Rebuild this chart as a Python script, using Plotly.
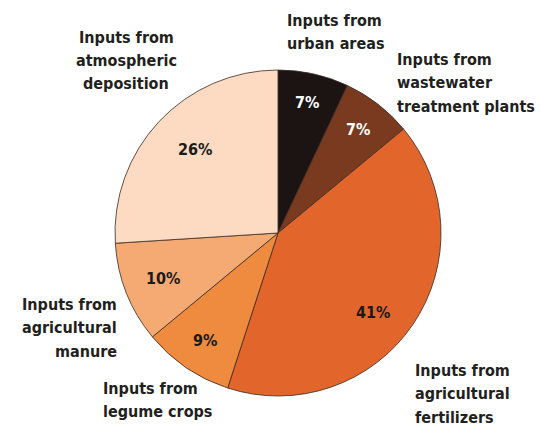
import math
import plotly.graph_objects as go

W, H = 541, 426

sources = ["Inputs from<br>urban areas",
           "Inputs from<br>wastewater<br>treatment plants",
           "Inputs from<br>agricultural<br>fertilizers",
           "Inputs from<br>legume crops",
           "Inputs from<br>agricultural<br>manure",
           "Inputs from<br>atmospheric<br>deposition"]
shares = [7, 7, 41, 9, 10, 26]
colors = ["#1b1412", "#7a3a1f", "#e2662b", "#ee8b3f", "#f5aa73", "#fcdbc2"]
text_colors = ["white", "white", "#1a1a1a", "#1a1a1a", "#1a1a1a", "#1a1a1a"]

FONT = "DejaVu Sans Condensed"

# pie geometry in pixels
CX, CY, R = 278, 233, 163

fig = go.Figure(go.Pie(
    labels=sources,
    values=shares,
    sort=False,
    direction="clockwise",
    rotation=0,
    marker=dict(colors=colors, line=dict(color="#3b2a22", width=0.8)),
    textinfo="none",
    showlegend=False,
    hoverinfo="label+percent",
    domain=dict(x=[(CX - R) / W, (CX + R) / W], y=[(H - CY - R) / H, (H - CY + R) / H]),
))

annotations = []

# percent labels placed near each slice's mid-angle (radius fraction, angle nudge in degrees)
label_radius = [0.82, 0.80, 0.76, 0.80, 0.76, 0.72]
label_nudge = [0, 0, 6, 0, 0, 2]
total = sum(shares)
cum = 0
for v, rf, nd, tc in zip(shares, label_radius, label_nudge, text_colors):
    mid = (cum + v / 2) / total * 2 * math.pi + math.radians(nd)
    cum += v
    px = CX + rf * R * math.sin(mid)
    py = CY - rf * R * math.cos(mid)
    annotations.append(dict(
        text="<b>%d%%</b>" % v, x=px / W, y=1 - py / H,
        xref="paper", yref="paper", xanchor="center", yanchor="middle",
        showarrow=False, font=dict(family=FONT, size=16, color=tc),
    ))

# outside labels: (pixel x, pixel y of first line centre, xanchor)
label_pos = [
    (285, 20, "left"),
    (395, 59, "left"),
    (413, 370, "left"),
    (101, 388, "left"),
    (119, 304, "right"),
    (126, 37, "center"),
]
LINE = 23.5
for txt, (px, py, xa) in zip(sources, label_pos):
    for i, line in enumerate(txt.split("<br>")):
        annotations.append(dict(
            text="<b>" + line + "</b>", x=px / W, y=1 - (py + i * LINE) / H,
            xref="paper", yref="paper", xanchor=xa, yanchor="middle",
            showarrow=False, font=dict(family=FONT, size=16, color="#231f20"),
        ))

fig.update_layout(
    width=W, height=H,
    margin=dict(l=0, r=0, t=0, b=0),
    paper_bgcolor="white",
    plot_bgcolor="white",
    annotations=annotations,
)

fig.write_html("out.html")
